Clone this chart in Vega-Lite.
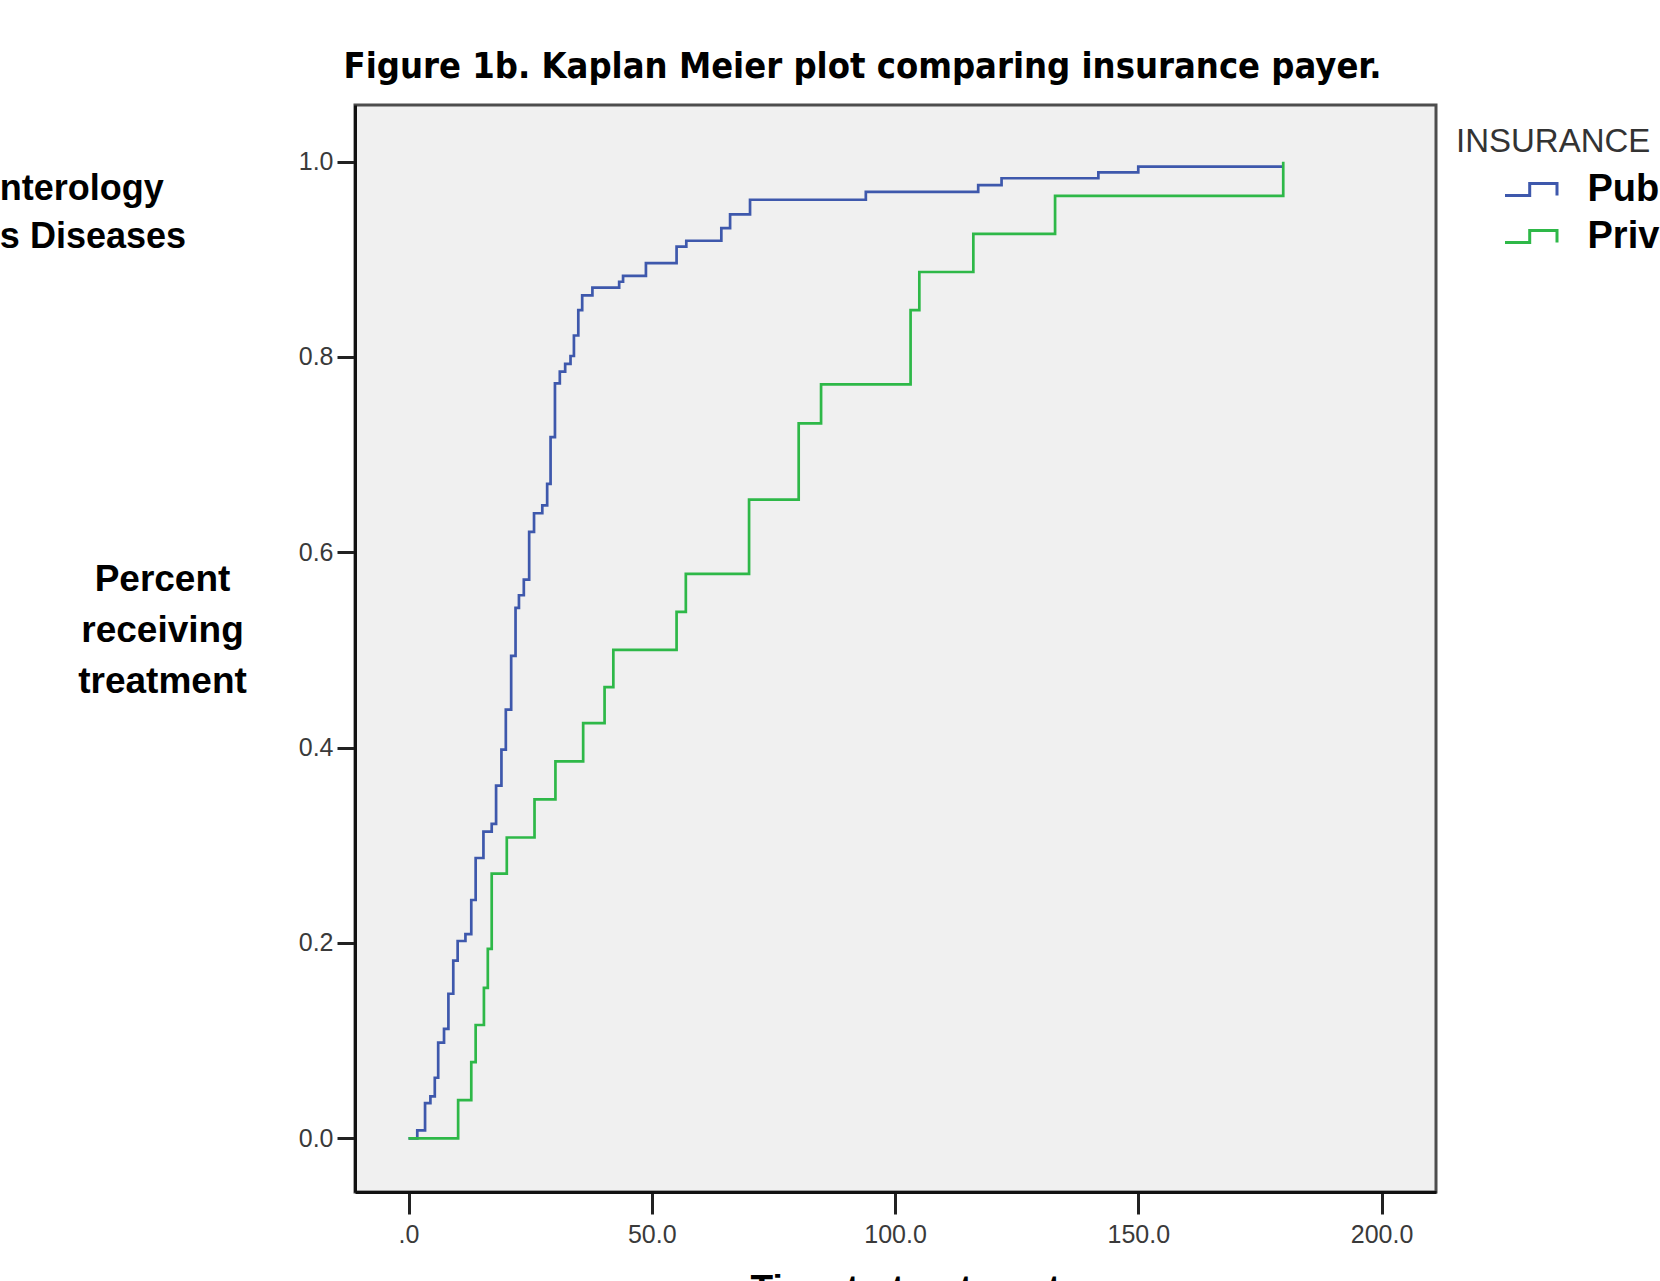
{
  "$schema": "https://vega.github.io/schema/vega-lite/v6.json",
  "autosize": {"type": "none"},
  "width": 1081,
  "height": 1087,
  "padding": {"left": 355, "top": 105, "right": 224, "bottom": 89},
  "background": "white",
  "title": {
    "text": "Figure 1b. Kaplan Meier plot comparing insurance payer.",
    "font": "DejaVu Sans Condensed, Liberation Sans, sans-serif",
    "fontSize": 36,
    "fontWeight": "bold",
    "color": "black",
    "anchor": "middle",
    "frame": "group",
    "dx": -33,
    "baseline": "alphabetic",
    "offset": -9
  },
  "config": {"view": {"fill": "#f0f0f0", "stroke": "#4d4d4d", "strokeWidth": 3}},
  "datasets": {
    "km": [
      {"insurance": "Public", "time": 0, "cum": 0},
      {"insurance": "Public", "time": 1.8, "cum": 0.008},
      {"insurance": "Public", "time": 3.4, "cum": 0.036},
      {"insurance": "Public", "time": 4.5, "cum": 0.043},
      {"insurance": "Public", "time": 5.4, "cum": 0.062},
      {"insurance": "Public", "time": 6.1, "cum": 0.098},
      {"insurance": "Public", "time": 7.3, "cum": 0.112},
      {"insurance": "Public", "time": 8.2, "cum": 0.148},
      {"insurance": "Public", "time": 9.2, "cum": 0.182},
      {"insurance": "Public", "time": 10.1, "cum": 0.202},
      {"insurance": "Public", "time": 11.7, "cum": 0.209},
      {"insurance": "Public", "time": 12.9, "cum": 0.244},
      {"insurance": "Public", "time": 13.8, "cum": 0.287},
      {"insurance": "Public", "time": 15.4, "cum": 0.314},
      {"insurance": "Public", "time": 17.1, "cum": 0.322},
      {"insurance": "Public", "time": 18.0, "cum": 0.361},
      {"insurance": "Public", "time": 19.1, "cum": 0.398},
      {"insurance": "Public", "time": 20.0, "cum": 0.439},
      {"insurance": "Public", "time": 21.1, "cum": 0.494},
      {"insurance": "Public", "time": 22.0, "cum": 0.543},
      {"insurance": "Public", "time": 22.7, "cum": 0.556},
      {"insurance": "Public", "time": 23.7, "cum": 0.572},
      {"insurance": "Public", "time": 24.8, "cum": 0.621},
      {"insurance": "Public", "time": 25.8, "cum": 0.640},
      {"insurance": "Public", "time": 27.5, "cum": 0.648},
      {"insurance": "Public", "time": 28.5, "cum": 0.670},
      {"insurance": "Public", "time": 29.2, "cum": 0.718},
      {"insurance": "Public", "time": 30.1, "cum": 0.773},
      {"insurance": "Public", "time": 31.1, "cum": 0.785},
      {"insurance": "Public", "time": 32.2, "cum": 0.793},
      {"insurance": "Public", "time": 33.3, "cum": 0.801},
      {"insurance": "Public", "time": 34.0, "cum": 0.822},
      {"insurance": "Public", "time": 34.9, "cum": 0.848},
      {"insurance": "Public", "time": 35.7, "cum": 0.863},
      {"insurance": "Public", "time": 37.8, "cum": 0.871},
      {"insurance": "Public", "time": 43.3, "cum": 0.877},
      {"insurance": "Public", "time": 44.1, "cum": 0.883},
      {"insurance": "Public", "time": 48.8, "cum": 0.896},
      {"insurance": "Public", "time": 55.1, "cum": 0.913},
      {"insurance": "Public", "time": 57.1, "cum": 0.919},
      {"insurance": "Public", "time": 64.3, "cum": 0.932},
      {"insurance": "Public", "time": 66.1, "cum": 0.946},
      {"insurance": "Public", "time": 70.2, "cum": 0.961},
      {"insurance": "Public", "time": 94.0, "cum": 0.969},
      {"insurance": "Public", "time": 117.1, "cum": 0.976},
      {"insurance": "Public", "time": 121.9, "cum": 0.983},
      {"insurance": "Public", "time": 141.8, "cum": 0.989},
      {"insurance": "Public", "time": 150.0, "cum": 0.995},
      {"insurance": "Public", "time": 179.8, "cum": 0.995},
      {"insurance": "Private", "time": 0, "cum": 0},
      {"insurance": "Private", "time": 10.2, "cum": 0.039},
      {"insurance": "Private", "time": 12.9, "cum": 0.078},
      {"insurance": "Private", "time": 13.8, "cum": 0.116},
      {"insurance": "Private", "time": 15.5, "cum": 0.154},
      {"insurance": "Private", "time": 16.3, "cum": 0.194},
      {"insurance": "Private", "time": 17.1, "cum": 0.271},
      {"insurance": "Private", "time": 20.2, "cum": 0.308},
      {"insurance": "Private", "time": 25.9, "cum": 0.347},
      {"insurance": "Private", "time": 30.2, "cum": 0.386},
      {"insurance": "Private", "time": 35.9, "cum": 0.425},
      {"insurance": "Private", "time": 40.3, "cum": 0.462},
      {"insurance": "Private", "time": 42.1, "cum": 0.500},
      {"insurance": "Private", "time": 55.1, "cum": 0.539},
      {"insurance": "Private", "time": 57.0, "cum": 0.578},
      {"insurance": "Private", "time": 70.0, "cum": 0.654},
      {"insurance": "Private", "time": 80.2, "cum": 0.732},
      {"insurance": "Private", "time": 84.8, "cum": 0.772},
      {"insurance": "Private", "time": 103.2, "cum": 0.848},
      {"insurance": "Private", "time": 105.0, "cum": 0.887},
      {"insurance": "Private", "time": 116.1, "cum": 0.926},
      {"insurance": "Private", "time": 132.9, "cum": 0.965},
      {"insurance": "Private", "time": 179.8, "cum": 1.0}
    ]
  },
  "layer": [
    {
      "data": {"name": "km"},
      "mark": {"type": "line", "interpolate": "step-after", "strokeWidth": 2.7},
      "encoding": {
        "x": {
          "field": "time",
          "type": "quantitative",
          "scale": {"domain": [-11, 211.2], "nice": false, "zero": false},
          "axis": {
            "values": [0, 50, 100, 150, 200],
            "labelExpr": "datum.value == 0 ? '.0' : format(datum.value, '.1f')",
            "grid": false,
            "tickSize": 22,
            "tickWidth": 3,
            "tickColor": "#222",
            "domainColor": "#111",
            "domainWidth": 3,
            "labelFont": "Liberation Sans",
            "labelFontSize": 25,
            "labelColor": "#3a3a3a",
            "labelPadding": 8,
            "labelFlush": false,
            "labelOverlap": false,
            "title": "Time to treatment",
            "titleFont": "Liberation Sans",
            "titleFontSize": 37,
            "titleFontWeight": "bold",
            "titleColor": "black",
            "titleAlign": "center",
            "titleBaseline": "alphabetic",
            "titleX": 550,
            "titleY": 108
          }
        },
        "y": {
          "field": "cum",
          "type": "quantitative",
          "scale": {"domain": [-0.055, 1.058], "nice": false, "zero": false},
          "axis": {
            "values": [0, 0.2, 0.4, 0.6, 0.8, 1.0],
            "format": ".1f",
            "grid": false,
            "tickSize": 18,
            "tickWidth": 3,
            "tickColor": "#222",
            "domainColor": "#111",
            "domainWidth": 3,
            "labelFont": "Liberation Sans",
            "labelFontSize": 25,
            "labelColor": "#3a3a3a",
            "labelPadding": 4,
            "labelFlush": false,
            "labelOverlap": false,
            "title": ["Percent", "receiving", "treatment"],
            "titleFont": "Liberation Sans",
            "titleFontSize": 37,
            "titleFontWeight": "bold",
            "titleColor": "black",
            "titleAngle": 0,
            "titleAlign": "center",
            "titleBaseline": "alphabetic",
            "titleX": -193,
            "titleY": 485,
            "titleLineHeight": 51
          }
        },
        "color": {
          "field": "insurance",
          "type": "nominal",
          "sort": ["Public", "Private"],
          "scale": {"domain": ["Public", "Private"], "range": ["#3E58AC", "#2EB848"]},
          "legend": {
            "orient": "none",
            "legendX": 1101,
            "legendY": 21,
            "title": "INSURANCE",
            "titleFont": "Liberation Sans",
            "titleFontSize": 33,
            "titleFontWeight": "normal",
            "titleColor": "#333",
            "titleBaseline": "top",
            "titlePadding": 3,
            "titleLimit": 600,
            "labelFont": "Liberation Sans",
            "labelFontSize": 38,
            "labelFontWeight": "bold",
            "labelColor": "black",
            "labelOffset": 29,
            "labelLimit": 600,
            "symbolOffset": 47.5,
            "symbolType": "M-1,0.23H-0.05V-0.23H1V0.23",
            "symbolSize": 2704,
            "symbolStrokeWidth": 3,
            "symbolFillColor": "transparent",
            "rowPadding": -5,
            "padding": 0,
            "encode": {"symbols": {"update": {"fill": {"value": "transparent"}}}}
          }
        }
      }
    },
    {
      "data": {"values": [{}]},
      "mark": {
        "type": "text",
        "text": ["nterology", "s Diseases"],
        "font": "Liberation Sans",
        "fontSize": 36,
        "fontWeight": "bold",
        "color": "black",
        "align": "left",
        "baseline": "alphabetic",
        "lineHeight": 48
      },
      "encoding": {
        "x": {"datum": -84},
        "y": {"datum": 0.961}
      }
    }
  ]
}
